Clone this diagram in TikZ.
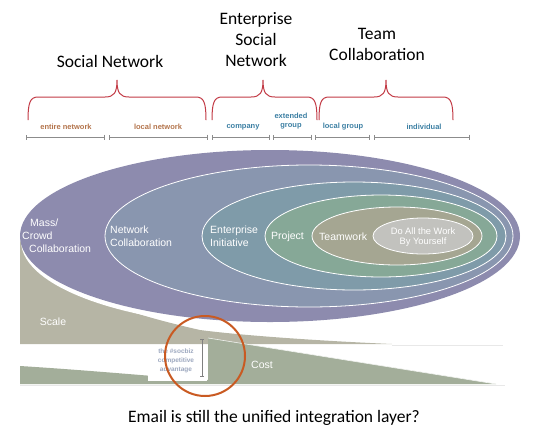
\documentclass[tikz,border=0pt]{standalone}
\usepackage{fontspec}
\setmainfont{Carlito}
\newfontfamily\labelfont{Liberation Sans}
\usetikzlibrary{arrows.meta}

\definecolor{massviolet}{HTML}{8D8BAE}
\definecolor{netblue}{HTML}{8996AF}
\definecolor{entteal}{HTML}{7F9BA9}
\definecolor{projgreen}{HTML}{86A897}
\definecolor{teamolive}{HTML}{A5A692}
\definecolor{selfgrey}{HTML}{C2C2BE}
\definecolor{scalegrey}{HTML}{B6B5A5}
\definecolor{costgreen}{HTML}{A3AE9A}
\definecolor{bracered}{HTML}{C23A45}
\definecolor{socialbrown}{HTML}{B3744C}
\definecolor{entblue}{HTML}{3C7FA3}
\definecolor{circleorange}{HTML}{C95A22}
\definecolor{advgrey}{HTML}{9EA9C0}

\tikzset{
  title/.style={font=\fontsize{17.5}{21}\selectfont, align=center, inner sep=0pt},
  ring/.style={draw=white, line width=0.8pt},
  ringlabel/.style={font=\labelfont\fontsize{10.5}{13}\selectfont, text=white, align=left, inner sep=0pt, anchor=west},
  ticklabel/.style={font=\labelfont\bfseries\fontsize{7.5}{9}\selectfont, inner sep=0pt, align=center},
  scalebar/.style={draw=gray!90, line width=0.8pt, {Bar[width=5pt]}-{Bar[width=5pt]}},
  spanline/.style={draw=bracered, line width=1pt},
}

% brace over a span: left end, tip, right end
\newcommand\spanbrace[3]{%
  \draw[spanline] (#1,120) .. controls (#1,103) and (#1+2,97) .. (#1+10,97)
    -- (#2-12,97) .. controls (#2-3,97) and (#2,93) .. (#2,80)
    .. controls (#2,93) and (#2+3,97) .. (#2+12,97)
    -- (#3-10,97) .. controls (#3-2,97) and (#3,103) .. (#3,120);}

\begin{document}
\begin{tikzpicture}[x=1pt,y=-1pt]
  \useasboundingbox (0,0) rectangle (536,440);

  % titles
  \node[title] (socialnet) at (110,61) {Social Network};
  \node[title] (esn) at (256,40) {Enterprise\\Social\\Network};
  \node[title] (teamcollab) at (377,44) {Team\\Collaboration};

  % braces
  \spanbrace{28}{117}{206}
  \spanbrace{212}{263}{317}
  \spanbrace{319}{386}{453}

  % span labels
  \begin{scope}[every node/.style={ticklabel}]
    \node[text=socialbrown] (entire) at (66,127) {entire network};
    \node[text=socialbrown] (localnet) at (158,127) {local network};
    \node[text=entblue] (company) at (243,127) {company};
    \node[text=entblue] (extended) at (291,121) {extended\\group};
    \node[text=entblue] (localgroup) at (343,127) {local group};
    \node[text=entblue] (individual) at (424,127) {individual};
  \end{scope}

  \foreach \a/\b in {26/105, 109/208, 212/270, 273/312, 315/370, 374/470}
    \draw[scalebar] (\a,137) -- (\b,137);

  % scale and cost wedges
  \fill[scalegrey] (20,236) -- (20,344) -- (392,344)
    .. controls (300,340) and (230,334) .. (200,330)
    .. controls (120,312) and (20,280) .. (20,236) -- cycle;
  \draw[gray!18, line width=1pt] (392,345.5) -- (503,345.5);
  \fill[costgreen] (20,366) .. controls (100,371) and (170,378) .. (208,380)
    -- (208,338) -- (496,384) -- (20,384) -- cycle;
  \draw[white!85!costgreen, line width=0.6pt] (208,338) -- (496,384);
  \draw[gray!18, line width=1pt] (20,385.5) -- (505,385.5);
  \fill[white] (148,345) rectangle (207,380.5);

  % nested rings
  \fill[white] (271,241) ellipse [x radius=250, y radius=86];
  \fill[massviolet] (270,236) ellipse [x radius=250, y radius=86];
  \filldraw[ring, fill=netblue] (309,236) ellipse [x radius=204, y radius=71];
  \filldraw[ring, fill=entteal] (354,236) ellipse [x radius=152, y radius=54];
  \filldraw[ring, fill=projgreen] (381,236) ellipse [x radius=116, y radius=41];
  \filldraw[ring, fill=teamolive] (397,236) ellipse [x radius=85, y radius=29];
  \filldraw[ring, fill=selfgrey] (423,236) ellipse [x radius=50, y radius=18];

  \node[ringlabel] (mass) at (22,236) {\hspace{8pt}Mass/\\Crowd\\\hspace{7pt}Collaboration};
  \node[ringlabel] (network) at (110,236) {Network\\Collaboration};
  \node[ringlabel] (enterprise) at (210,236) {Enterprise\\Initiative};
  \node[ringlabel] (project) at (271,237) {Project};
  \node[ringlabel] (teamwork) at (319,237) {Teamwork};
  \node[ringlabel, anchor=center, align=center, font=\labelfont\fontsize{9.3}{10.5}\selectfont] (yourself) at (423,237) {Do All the Work\\By Yourself};

  \node[ringlabel, anchor=center] (scale) at (53,322) {Scale};
  \node[ringlabel, anchor=center] (cost) at (262,365) {Cost};

  % advantage marker
  \draw[draw=gray, line width=0.7pt, {Bar[width=4pt]}-{Bar[width=4pt]}] (202,339) -- (202,377);
  \node[font=\labelfont\bfseries\fontsize{6.5}{9}\selectfont, text=advgrey, align=center, inner sep=0pt] (advantage) at (176,361) {the \#socbiz\\competitive\\advantage};
  \draw[circleorange, line width=2pt] (205,356) circle [radius=40];

  % caption
  \node[title] (caption) at (274,418) {Email is still the unified integration layer?};
\end{tikzpicture}
\end{document}
